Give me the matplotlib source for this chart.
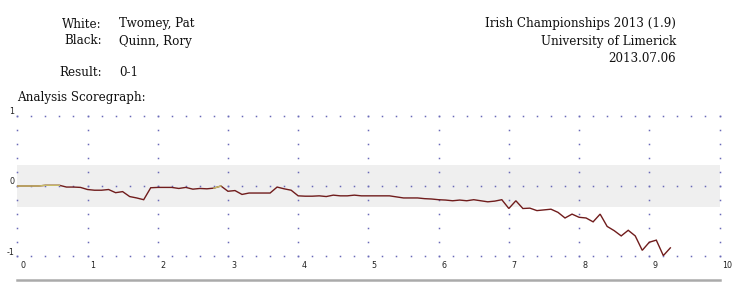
import matplotlib
matplotlib.use("Agg")
import matplotlib.pyplot as plt
from matplotlib.lines import Line2D
import numpy as np

# ---- data ----
white_player = "Twomey, Pat"
black_player = "Quinn, Rory"
result = "0-1"
event = "Irish Championships 2013 (1.9)"
site = "University of Limerick"
date = "2013.07.06"

ply_step = 0.1  # horizontal spacing between plotted evaluations (move units)
scores = [
    0.0, 0.0, 0.0, 0.0, 0.01, 0.01, 0.01, -0.015, -0.015, -0.02,
    -0.05, -0.06, -0.06, -0.05, -0.095, -0.08, -0.15, -0.17, -0.195, -0.025,
    -0.02, -0.02, -0.02, -0.035, -0.02, -0.045, -0.035, -0.04, -0.03, 0.0,
    -0.075, -0.065, -0.12, -0.10, -0.10, -0.10, -0.10, -0.015, -0.04, -0.06,
    -0.14, -0.145, -0.145, -0.14, -0.15, -0.13, -0.14, -0.14, -0.13, -0.14,
    -0.14, -0.14, -0.14, -0.14, -0.155, -0.17, -0.17, -0.17, -0.18, -0.185,
    -0.195, -0.20, -0.21, -0.20, -0.21, -0.195, -0.21, -0.225, -0.215, -0.195,
    -0.32, -0.21, -0.32, -0.315, -0.35, -0.34, -0.33, -0.375, -0.455, -0.40,
    -0.445, -0.455, -0.51, -0.40, -0.575, -0.635, -0.71, -0.63, -0.71, -0.915,
    -0.80, -0.77, -0.99, -0.88,
]
highlight_ranges = [(0, 6), (28, 29)]  # index ranges drawn in yellow

x_ticks = [0, 1, 2, 3, 4, 5, 6, 7, 8, 9, 10]
x_tick_labels = ["0", "1", "2", "3", "4", "5", "6", "7", "8", "9", "10"]
y_ticks = [1, 0, -1]
y_tick_labels = ["1", "0", "-1"]
band_limit = 0.3

# ---- figure ----
W, H = 742, 289
fig = plt.figure(figsize=(W / 100, H / 100), dpi=100)
fig.patch.set_facecolor("white")

def fx(px):
    return px / W

def fy(py):
    return 1 - py / H

x0_px, x1_px = 17.3, 719.5
ytop_px, ybot_px = 115.7, 256.3
ax = fig.add_axes([fx(x0_px), fy(ybot_px), (x1_px - x0_px) / W, (ybot_px - ytop_px) / H])
ax.set_xlim(0, 10)
ax.set_ylim(-1, 1)
ax.axis("off")

# gray band
ax.fill_between([0, 10], -band_limit, band_limit, color="#efefef", lw=0, zorder=0)

# dotted grid
dot_color = "#6a6ab8"
grid_pts = np.linspace(0, 10, 51)
for yv in y_ticks:
    ax.plot(grid_pts, [yv] * len(grid_pts), ls="none", marker="s", ms=1.1,
            mew=0, color=dot_color, clip_on=False, zorder=1)
col_pts = np.linspace(-1, 1, 11)
for xv in x_ticks:
    ax.plot([xv] * len(col_pts), col_pts, ls="none", marker="s", ms=1.1,
            mew=0, color=dot_color, clip_on=False, zorder=1)

# score line
xs = np.arange(len(scores)) * ply_step
ax.plot(xs, scores, color="#701c1c", lw=1.0, zorder=3, solid_joinstyle="miter")
for a, b in highlight_ranges:
    ax.plot(xs[a:b + 1], scores[a:b + 1], color="#c8bd68", lw=1.0, zorder=4)

# tick labels
tick_font = dict(family="DejaVu Sans", fontsize=5.8, color="#222222")
for xv, lab in zip(x_ticks, x_tick_labels):
    ax.annotate(lab, (xv, -1), xytext=(3, -5), textcoords="offset pixels",
                ha="left", va="top", annotation_clip=False, **tick_font)
for yv, lab in zip(y_ticks, y_tick_labels):
    ax.annotate(lab, (0, yv), xytext=(-3, 4), textcoords="offset pixels",
                ha="right", va="center", annotation_clip=False, **tick_font)

# header text
hdr = dict(family="DejaVu Serif", fontsize=8.6, color="#111111", va="center")
fig.text(fx(102), fy(24), "White:", ha="right", **hdr)
fig.text(fx(119), fy(24), white_player, ha="left", **hdr)
fig.text(fx(102), fy(41), "Black:", ha="right", **hdr)
fig.text(fx(119), fy(41), black_player, ha="left", **hdr)
fig.text(fx(102), fy(73), "Result:", ha="right", **hdr)
fig.text(fx(119), fy(73), result, ha="left", **hdr)
fig.text(fx(17), fy(98), "Analysis Scoregraph:", ha="left", **hdr)
fig.text(fx(676), fy(24), event, ha="right", **hdr)
fig.text(fx(676), fy(41), site, ha="right", **hdr)
fig.text(fx(676), fy(58), date, ha="right", **hdr)

# bottom rule
fig.add_artist(Line2D([fx(17), fx(720)], [fy(280), fy(280)], color="#aaaaaa", lw=1.8))

fig.savefig("out.png", dpi=100, facecolor="white")
